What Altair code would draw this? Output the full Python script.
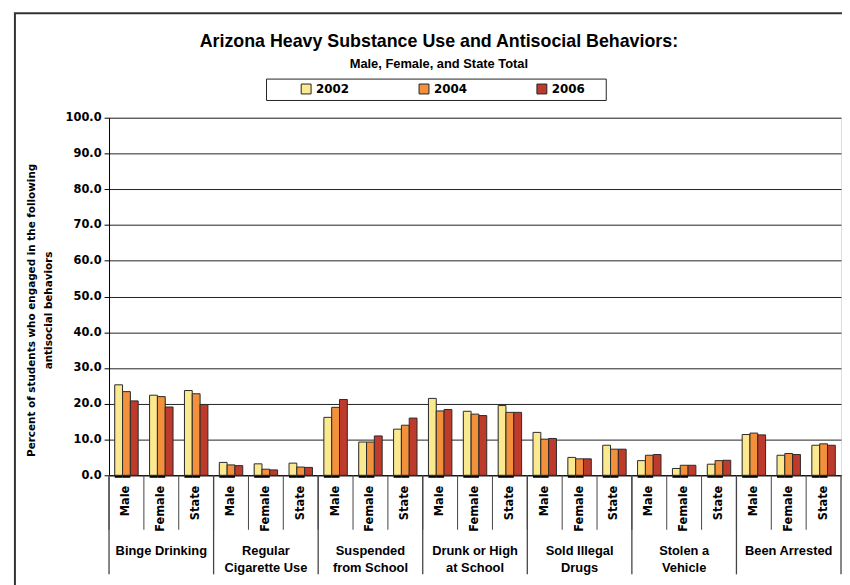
import altair as alt
import pandas as pd

categories = ["Binge Drinking", "Regular Cigarette Use", "Suspended from School",
              "Drunk or High at School", "Sold Illegal Drugs", "Stolen a Vehicle", "Been Arrested"]
category_labels = ["Binge Drinking", "Regular\nCigarette Use", "Suspended\nfrom School",
                   "Drunk or High\nat School", "Sold Illegal\nDrugs", "Stolen a\nVehicle", "Been Arrested"]
sexes = ["Male", "Female", "State"]
years = ["2002", "2004", "2006"]
colors = ["#FBE98F", "#F2903C", "#BE3A2B"]

v2002 = [25.3, 22.4, 23.7, 3.6, 3.2, 3.4, 16.2, 9.3, 12.9, 21.5, 17.9, 19.5,
         12.0, 5.0, 8.4, 4.1, 1.9, 3.1, 11.4, 5.6, 8.4]
v2004 = [23.4, 22.0, 22.8, 2.9, 1.7, 2.3, 19.0, 9.3, 14.0, 18.0, 17.1, 17.6,
         10.1, 4.6, 7.3, 5.6, 2.8, 4.1, 11.8, 6.1, 8.8]
v2006 = [20.8, 19.1, 19.8, 2.7, 1.5, 2.2, 21.2, 11.0, 16.0, 18.4, 16.7, 17.6,
         10.3, 4.6, 7.3, 5.8, 2.8, 4.2, 11.3, 5.8, 8.4]

title_text = "Arizona Heavy Substance Use and Antisocial Behaviors:"
subtitle_text = "Male, Female, and State Total"
y_title = ["Percent of students who engaged in the following", "antisocial behaviors"]
y_ticks = [0, 10, 20, 30, 40, 50, 60, 70, 80, 90, 100]

keys = [f"{c}|{s}" for c in categories for s in sexes]
rows = []
for yr, vals in zip(years, [v2002, v2004, v2006]):
    for k, v in zip(keys, vals):
        rows.append({"key": k, "year": yr, "value": v})
df = pd.DataFrame(rows)

sep_df = pd.DataFrame({"key": keys, "sex": [k.split("|")[1] for k in keys]})
grp_df = pd.DataFrame({"key": [f"{c}|Female" for c in categories], "label": category_labels})
end_df = pd.DataFrame({"key": [keys[-1]]})

W, H = 739, 361
SANS = "Liberation Sans, Arial, sans-serif"
WIDE = "DejaVu Sans, Verdana, sans-serif"

x_scale = alt.Scale(paddingInner=0, paddingOuter=0)
x_axis = alt.Axis(title=None, labelExpr="split(datum.label, '|')[1]",
                  labelAngle=270, labelAlign="right", labelBaseline="middle",
                  labelPadding=10, ticks=False, domainColor="black", domainWidth=1,
                  labelFont=WIDE, labelFontSize=11.5, labelFontWeight="bold",
                  labelColor="black")
y_scale = alt.Scale(domain=[0, 100], nice=False)
y_axis = alt.Axis(values=y_ticks, format=".1f", labelOverlap=False,
                  grid=True, gridColor="#222", gridWidth=1,
                  tickSize=5, tickColor="black", domainColor="black",
                  labelFont=WIDE, labelFontSize=11.5, labelFontWeight="bold",
                  labelColor="black", labelPadding=3,
                  title=y_title, titleFont=WIDE, titleFontSize=10.5,
                  titleFontWeight="bold", titleColor="black",
                  titleAngle=270, titleBaseline="top", titleAlign="center",
                  titleX=-83, titleY=194, titleLineHeight=17)


def xk(**kw):
    return alt.X("key:N", sort=keys, scale=x_scale, axis=x_axis, **kw)


def yv():
    return alt.Y("value:Q", scale=y_scale, axis=y_axis)


color_enc = alt.Color("year:N", sort=years,
                      scale=alt.Scale(domain=years, range=colors),
                      legend=alt.Legend(orient="none", legendX=193, legendY=-35,
                                        direction="horizontal", title=None,
                                        symbolType="square", symbolSize=100,
                                        symbolStrokeColor="#222", symbolStrokeWidth=1,
                                        symbolOpacity=1,
                                        labelFont=WIDE, labelFontSize=12,
                                        labelFontWeight="bold", labelColor="black",
                                        labelOffset=4, columnPadding=68, padding=0))

xoff = alt.XOffset("year:N", sort=years, scale=alt.Scale(paddingOuter=0.73, paddingInner=0))

shadow = alt.Chart(df).transform_filter("datum.year != '2006'").mark_bar(
    color="black", xOffset=2.5, yOffset=2.5).encode(
    x=xk(), xOffset=xoff, y=yv())

bars = alt.Chart(df).mark_bar(stroke="#2a2a2a", strokeWidth=1).encode(
    x=xk(), xOffset=xoff, y=yv(), color=color_enc)

short_sep = alt.Chart(sep_df).mark_rule(color="#444", strokeWidth=1).encode(
    x=xk(bandPosition=0), y=alt.value(H), y2=alt.value(H + 55))
long_sep = alt.Chart(sep_df).transform_filter("datum.sex == 'Male'").mark_rule(
    color="#444", strokeWidth=1.3).encode(
    x=xk(bandPosition=0), y=alt.value(H), y2=alt.value(H + 100))
end_sep = alt.Chart(end_df).mark_rule(color="#444", strokeWidth=1.3).encode(
    x=xk(bandPosition=1), y=alt.value(H), y2=alt.value(H + 100))

grp_text = alt.Chart(grp_df).mark_text(
    font=SANS, fontSize=13, fontWeight="bold", color="black",
    baseline="top", align="center", lineBreak="\n", lineHeight=18).encode(
    x=xk(), y=alt.value(H + 70), text="label:N")

legend_box = alt.Chart(pd.DataFrame({"a": [0]})).mark_rect(
    fill="white", stroke="#222", strokeWidth=1).encode(
    x=alt.value(159), x2=alt.value(502), y=alt.value(-39), y2=alt.value(-17.4))

title_mark = alt.Chart(pd.DataFrame({"t": [title_text]})).mark_text(
    font=SANS, fontSize=18, fontWeight="bold", color="black", align="center",
    baseline="middle").encode(x=alt.value(333), y=alt.value(-76), text="t:N")
subtitle_mark = alt.Chart(pd.DataFrame({"t": [subtitle_text]})).mark_text(
    font=SANS, fontSize=13, fontWeight="bold", color="black", align="center",
    baseline="middle").encode(x=alt.value(333), y=alt.value(-54), text="t:N")

frame_left = alt.Chart(pd.DataFrame({"a": [0]})).mark_rule(color="#333", strokeWidth=2).encode(
    x=alt.value(-95), y=alt.value(-105.5), y2=alt.value(H + 130))
frame_top = alt.Chart(pd.DataFrame({"a": [0]})).mark_rule(color="#333", strokeWidth=2).encode(
    x=alt.value(-96), x2=alt.value(W + 40), y=alt.value(-105.5))

chart = alt.layer(
    shadow, bars, short_sep, long_sep, end_sep, grp_text,
    legend_box, title_mark, subtitle_mark, frame_left, frame_top
).properties(
    width=W, height=H,
    autosize=alt.AutoSizeParams(type="none"),
    padding={"left": 102, "top": 108, "right": 1, "bottom": 108},
).configure_view(stroke="#777", strokeWidth=1.5).configure(background="white")

chart.save("out.html", embed_options={"renderer": "svg", "actions": False})
